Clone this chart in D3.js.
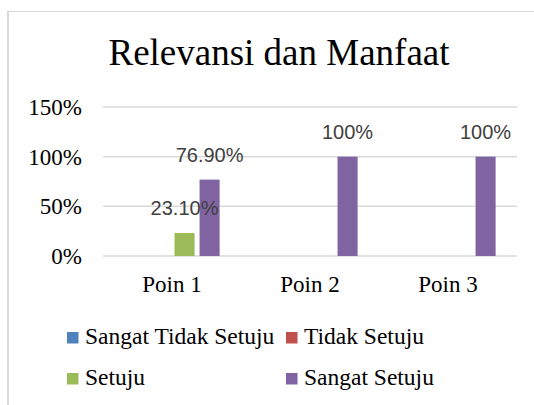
<!DOCTYPE html>
<html>
<head>
<meta charset="utf-8">
<script src="https://cdn.jsdelivr.net/npm/d3@7"></script>
<style>
  body { margin: 0; background: #fff; }
  svg { display: block; }
</style>
</head>
<body>
<svg id="chart" width="534" height="405"></svg>
<script>
// data
var categories = ["Poin 1", "Poin 2", "Poin 3"];
var seriesNames = ["Sangat Tidak Setuju", "Tidak Setuju", "Setuju", "Sangat Setuju"];
var seriesColors = ["#4f81bd", "#c0504d", "#9bbb59", "#8064a2"];
var sangatTidakSetuju = [0, 0, 0];
var tidakSetuju = [0, 0, 0];
var setuju = [0.231, 0, 0];
var sangatSetuju = [0.769, 1, 1];
var labelTexts = [[null, null, null], [null, null, null], ["23.10%", null, null], ["76.90%", "100%", "100%"]];
var yTicks = [0, 0.5, 1, 1.5];

var values = [sangatTidakSetuju, tidakSetuju, setuju, sangatSetuju];

var svg = d3.select("#chart");
var serif = "Liberation Serif, Times New Roman, serif";

// chart border (only left and top edges visible)
svg.append("line").attr("x1", 8).attr("x2", 8).attr("y1", 11).attr("y2", 405)
    .attr("stroke", "#d9d9d9").attr("stroke-width", 2);
svg.append("line").attr("x1", 7).attr("x2", 534).attr("y1", 11.5).attr("y2", 11.5)
    .attr("stroke", "#d9d9d9").attr("stroke-width", 1);

// title
svg.append("text")
    .attr("x", 279).attr("y", 65)
    .attr("text-anchor", "middle")
    .attr("font-family", serif).attr("font-size", 37).attr("fill", "#000")
    .text("Relevansi dan Manfaat");

// scales
var x0 = d3.scaleBand().domain(categories).range([103, 517]).paddingInner(0.31).paddingOuter(0.155);
var x1 = d3.scaleBand().domain(d3.range(seriesNames.length)).range([0, x0.bandwidth()]).paddingInner(0.2);
var y = d3.scaleLinear().domain([0, 1.5]).range([256, 107]);

// gridlines
svg.append("g")
    .selectAll("line")
    .data(yTicks)
  .enter().append("line")
    .attr("x1", 103).attr("x2", 517)
    .attr("y1", function(d) { return y(d); })
    .attr("y2", function(d) { return y(d); })
    .attr("stroke", "#d9d9d9").attr("stroke-width", 1.5);

// y axis
var yAxis = svg.append("g")
    .attr("transform", "translate(91,0)")
    .call(d3.axisLeft(y).tickValues(yTicks).tickSize(0).tickPadding(9).tickFormat(d3.format(".0%")))
    .attr("font-family", serif).attr("font-size", 23);
yAxis.select(".domain").remove();
yAxis.selectAll("text").attr("fill", "#000");

// x axis
var xAxis = svg.append("g")
    .attr("transform", "translate(0,256)")
    .call(d3.axisBottom(x0).tickSize(0).tickPadding(20))
    .attr("font-family", serif).attr("font-size", 23);
xAxis.select(".domain").remove();
xAxis.selectAll("text").attr("fill", "#000");

// bars
var groups = svg.append("g").selectAll("g")
    .data(categories)
  .enter().append("g")
    .attr("transform", function(d) { return "translate(" + x0(d) + ",0)"; });

groups.selectAll("rect")
    .data(function(d, i) { return values.map(function(v, s) { return {s: s, v: v[i]}; }); })
  .enter().append("rect")
    .attr("x", function(d) { return x1(d.s); })
    .attr("width", x1.bandwidth())
    .attr("y", function(d) { return y(d.v); })
    .attr("height", function(d) { return y(0) - y(d.v); })
    .attr("fill", function(d) { return seriesColors[d.s]; });

// data labels
groups.selectAll("text.lbl")
    .data(function(d, i) { return values.map(function(v, s) { return {s: s, v: v[i], t: labelTexts[s][i]}; }).filter(function(d) { return d.t; }); })
  .enter().append("text")
    .attr("class", "lbl")
    .attr("x", function(d) { return x1(d.s) + x1.bandwidth() / 2; })
    .attr("y", function(d) { return y(d.v) - 18; })
    .attr("text-anchor", "middle")
    .attr("font-family", "Liberation Sans, Arial, sans-serif").attr("font-size", 20)
    .attr("fill", "#404040")
    .text(function(d) { return d.t; });

// legend
var legendPos = [[67, 344], [286, 344], [67, 385], [286, 385]];
var legend = svg.append("g").selectAll("g")
    .data(seriesNames)
  .enter().append("g")
    .attr("transform", function(d, i) { return "translate(" + legendPos[i][0] + "," + legendPos[i][1] + ")"; });
legend.append("rect")
    .attr("x", 0).attr("y", -12).attr("width", 11.5).attr("height", 11.5)
    .attr("fill", function(d, i) { return seriesColors[i]; });
legend.append("text")
    .attr("x", 18).attr("y", 0)
    .attr("font-family", serif).attr("font-size", 23.5).attr("fill", "#000")
    .text(function(d) { return d; });
</script>
</body>
</html>
